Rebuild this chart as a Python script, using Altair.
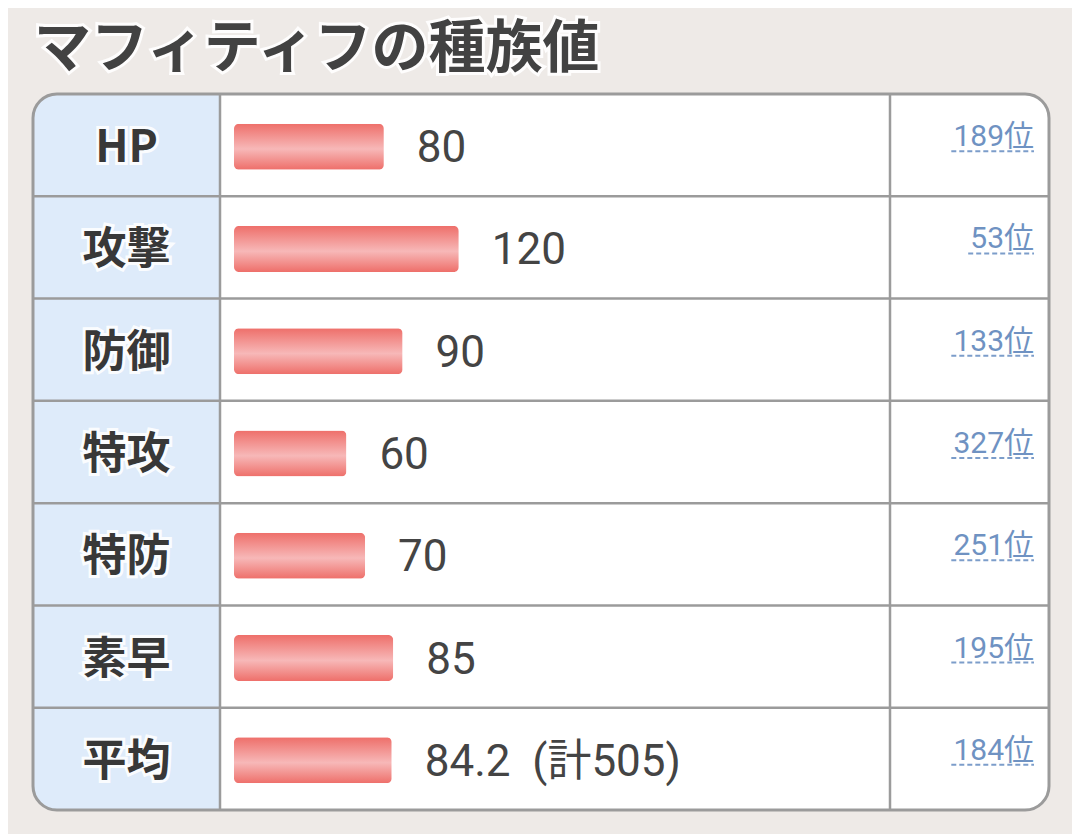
import altair as alt
import pandas as pd

title_text = "マフィティフの種族値"
stats = ["HP", "攻撃", "防御", "特攻", "特防", "素早", "平均"]
values = [80, 120, 90, 60, 70, 85, 84.2]
value_labels = ["80", "120", "90", "60", "70", "85", "84.2\u00a0\u00a0(計505)"]
ranks = ["189位", "53位", "133位", "327位", "251位", "195位", "184位"]

df = pd.DataFrame({"stat": stats, "value": values, "label": value_labels, "rank": ranks})

W, H = 1016, 716
LABEL_COL = 187
RANK_COL = 857
BORDER = "#9b9b9b"
JP = "Noto Sans CJK JP"

yenc = alt.Y("stat:N", sort=stats,
             scale=alt.Scale(domain=stats, paddingInner=0, paddingOuter=0), axis=None)
xscale = alt.Scale(domain=[0, 100], range=[201, 388.3])

base = alt.Chart(df)
one = alt.Chart(pd.DataFrame({"t": [title_text]}))

bg = one.mark_rect(fill="white", cornerRadius=24).encode(
    x=alt.value(0), x2=alt.value(W), y=alt.value(0), y2=alt.value(H))
leftcol = one.mark_rect(fill="#deebfa", cornerRadiusTopLeft=24, cornerRadiusBottomLeft=24).encode(
    x=alt.value(0), x2=alt.value(LABEL_COL), y=alt.value(0), y2=alt.value(H))

rows = alt.Chart(df.iloc[1:]).mark_rule(color=BORDER, strokeWidth=2.5).encode(
    y=alt.Y("stat:N", sort=stats, bandPosition=0,
            scale=alt.Scale(domain=stats, paddingInner=0, paddingOuter=0), axis=None),
    x=alt.value(0), x2=alt.value(W))
vline1 = one.mark_rule(color=BORDER, strokeWidth=2.5).encode(
    x=alt.value(LABEL_COL), y=alt.value(0), y2=alt.value(H))
vline2 = one.mark_rule(color=BORDER, strokeWidth=2.5).encode(
    x=alt.value(RANK_COL), y=alt.value(0), y2=alt.value(H))
outer = one.mark_rect(fill=None, fillOpacity=0, stroke=BORDER, strokeWidth=3, cornerRadius=24).encode(
    x=alt.value(0), x2=alt.value(W), y=alt.value(0), y2=alt.value(H))

grad = alt.LinearGradient(
    gradient="linear",
    stops=[alt.GradientStop(color="#ee6f6a", offset=0),
           alt.GradientStop(color="#f7b8b8", offset=0.55),
           alt.GradientStop(color="#ee6f6a", offset=1)],
    x1=0, x2=0, y1=0, y2=1)

bars = base.mark_bar(color=grad, cornerRadius=5, size=46, yOffset=1.5).encode(
    x=alt.X("value:Q", scale=xscale, axis=None), y=yenc)

vals = base.mark_text(align="left", baseline="middle", dx=33, dy=4, fontSize=44,
                      font="Roboto, 'Noto Sans CJK JP'", color="#444444").encode(
    x=alt.X("value:Q", scale=xscale, axis=None), y=yenc, text="label:N")

lab_glow = base.mark_text(align="center", baseline="middle", fontSize=44, fontWeight="bold",
                          font=JP, stroke="white", strokeWidth=6, strokeOpacity=0.9,
                          fill="white", dy=4).encode(
    x=alt.value(LABEL_COL / 2), y=yenc, text="stat:N")
lab = base.mark_text(align="center", baseline="middle", fontSize=44, fontWeight="bold",
                     font=JP, color="#383838", dy=4).encode(
    x=alt.value(LABEL_COL / 2), y=yenc, text="stat:N")

rank_txt = base.mark_text(align="right", baseline="middle", fontSize=30,
                          font="Roboto, 'Noto Sans CJK JP'", color="#6f92c2", dy=-8).encode(
    x=alt.value(1001), y=yenc, text="rank:N")

underline = base.transform_calculate(
    ul_start="1001 - ((length(datum.rank) - 1) * 16.9 + 32)",
    ul_end="1001"
).mark_rule(color="#7c9dca", strokeWidth=2, strokeDash=[5, 3], yOffset=6).encode(
    x=alt.X("ul_start:Q", scale=alt.Scale(domain=[0, W], range=[0, W]), axis=None),
    x2="ul_end:Q",
    y=yenc)

title_glow = one.mark_text(align="left", baseline="middle", fontSize=57, fontWeight="bold",
                           font=JP, stroke="white", strokeWidth=6, strokeOpacity=0.9,
                           fill="white").encode(
    x=alt.value(1), y=alt.value(-44), text="t:N")
title = one.mark_text(align="left", baseline="middle", fontSize=57, fontWeight="bold",
                      font=JP, color="#424242").encode(
    x=alt.value(1), y=alt.value(-44), text="t:N")

chart = alt.layer(
    bg, leftcol, rows, vline1, vline2, outer,
    bars, vals, lab_glow, lab, rank_txt, underline, title_glow, title
).resolve_scale(x="independent").properties(
    width=W, height=H,
    autosize=alt.AutoSizeParams(type="none"),
    padding={"left": 25, "top": 86, "right": 23, "bottom": 24},
    background="#eeeae7"
).configure_view(stroke=None)

chart.save("out.html", embed_options={"renderer": "svg", "actions": False})
